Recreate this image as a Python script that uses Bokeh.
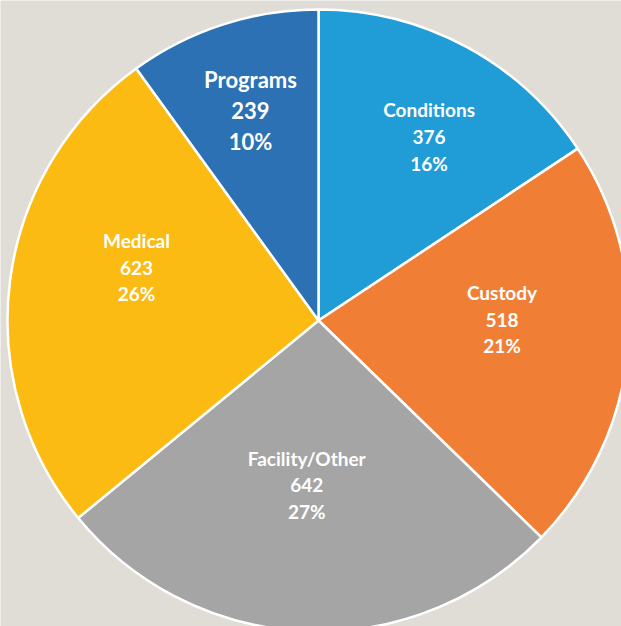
import math
from bokeh.plotting import figure
from bokeh.models import Range1d, ColumnDataSource
from bokeh.core.properties import value
from bokeh.embed import file_html
from bokeh.resources import INLINE

# ---- data ----
categories = ["Conditions", "Custody", "Facility/Other", "Medical", "Programs"]
counts = [376, 518, 642, 623, 239]
pct_labels = ["16%", "21%", "27%", "26%", "10%"]
colors = ["#209CD7", "#F07F35", "#A5A5A5", "#FBBB12", "#2D71B5"]

# ---- layout (reference pixel space, y pointing up as negative pixel rows) ----
CX, CY, R = 318, -320, 311
label_r = [0.69, 0.59, 0.53, 0.61, 0.71]      # radial fraction for labels
label_turn = [2.8, -5.7, 1.7, 9.0, 0.0]        # degrees clockwise tweak
label_size = ["19px", "19px", "19px", "19px", "22px"]

total = float(sum(counts))
starts, ends, lx, ly, texts = [], [], [], [], []
cum = 0.0
for i, c in enumerate(counts):
    a0 = math.pi / 2 - 2 * math.pi * cum / total
    cum += c
    a1 = math.pi / 2 - 2 * math.pi * cum / total
    starts.append(a0)
    ends.append(a1)
    mid = (a0 + a1) / 2 - math.radians(label_turn[i])
    lx.append(CX + label_r[i] * R * math.cos(mid))
    ly.append(CY + label_r[i] * R * math.sin(mid))
    texts.append(f"{categories[i]}\n{counts[i]}\n{pct_labels[i]}")

src = ColumnDataSource(dict(start=starts, end=ends, color=colors,
                            lx=lx, ly=ly, text=texts, size=label_size))

BG = "#E0DDD7"
p = figure(width=621, height=626, output_backend="svg", toolbar_location=None,
           x_range=Range1d(0, 621), y_range=Range1d(-626, 0),
           min_border=0, background_fill_color=BG, border_fill_color=BG)
p.axis.visible = False
p.grid.visible = False
p.outline_line_color = None

p.wedge(x=CX, y=CY, radius=R, start_angle="start", end_angle="end",
        direction="clock", fill_color="color", line_color="white",
        line_width=2.5, source=src)

p.text(x="lx", y="ly", text="text", source=src, text_color="white",
       text_font=value("Lato"), text_font_style="bold",
       text_font_size="size", text_align="center", text_baseline="middle",
       text_line_height=1.16)

open("out.html", "w").write(file_html(p, INLINE))
